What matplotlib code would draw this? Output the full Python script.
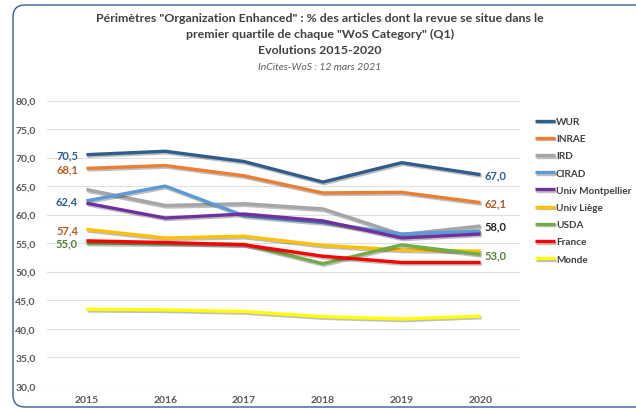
import matplotlib
matplotlib.use("Agg")
import matplotlib.pyplot as plt
import matplotlib.patheffects as pe
from matplotlib.patches import FancyBboxPatch
from matplotlib.transforms import IdentityTransform

plt.rcParams['font.family'] = ['Lato', 'DejaVu Sans']

years = ['2015', '2016', '2017', '2018', '2019', '2020']
series_names = ['WUR', 'INRAE', 'IRD', 'CIRAD', 'Univ Montpellier',
                'Univ Liège', 'USDA', 'France', 'Monde']
colors = ['#2F5D8C', '#ED7D31', '#A5A5A5', '#5B9BD5', '#7030A0',
          '#FFC000', '#70AD47', '#FF0000', '#FFFF00']

wur = [70.5, 71.1, 69.3, 65.7, 69.1, 67.0]
inrae = [68.1, 68.6, 66.8, 63.8, 63.9, 62.1]
ird = [64.4, 61.6, 61.9, 61.0, 56.5, 58.0]
cirad = [62.4, 65.0, 59.8, 58.6, 56.6, 57.1]
univ_mtp = [62.0, 59.4, 60.1, 58.9, 55.9, 56.6]
univ_liege = [57.4, 55.9, 56.2, 54.6, 53.8, 53.6]
usda = [55.0, 54.9, 54.8, 51.4, 54.7, 53.0]
france = [55.4, 55.1, 54.7, 52.7, 51.6, 51.6]
monde = [43.4, 43.3, 43.0, 42.1, 41.7, 42.2]
all_series = [wur, inrae, ird, cirad, univ_mtp, univ_liege, usda, france, monde]

# data labels: (series index, text colour)
left_labels = [(0, '#2F5D8C'), (1, '#B55A1E'), (3, '#2F5D8C'), (5, '#B55A1E'), (6, '#548235')]
right_labels = [(0, '#2F5D8C'), (1, '#B55A1E'), (2, '#262626'), (6, '#548235')]

W, H = 636, 410
fig = plt.figure(figsize=(W / 100, H / 100), dpi=100)
fig.patch.set_facecolor('white')

# rounded frame around the chart
frame = FancyBboxPatch((13, 2), 640, 402, boxstyle="round,pad=0,rounding_size=12",
                       transform=IdentityTransform(), facecolor='none',
                       edgecolor='#3A5A9A', linewidth=1.0)
fig.patches.append(frame)

# axes placed in pixel units
x0, x1 = 47, 520
y_top, y_bot = 101.5, 386.7
ax = fig.add_axes([x0 / W, 1 - y_bot / H, (x1 - x0) / W, (y_bot - y_top) / H])

xs = list(range(len(years)))
for name, vals, c in zip(series_names, all_series, colors):
    ax.plot(xs, vals, color=c, lw=2.4, label=name, solid_capstyle='butt',
            path_effects=[pe.SimpleLineShadow(offset=(0.8, -1.2), alpha=0.25),
                          pe.Normal()])

for i, c in left_labels:
    ax.annotate(f"{all_series[i][0]:.1f}".replace('.', ','), (0, all_series[i][0]),
                xytext=(-6, 0), textcoords='offset points', ha='right', va='center',
                fontsize=8, fontweight='bold', color=c)
for i, c in right_labels:
    ax.annotate(f"{all_series[i][-1]:.1f}".replace('.', ','), (5, all_series[i][-1]),
                xytext=(3, 0), textcoords='offset points', ha='left', va='center',
                fontsize=8, fontweight='bold', color=c)

ax.set_xlim(-0.5, 5.5)
ax.set_ylim(30, 80)
ax.set_yticks(range(30, 81, 5))
ax.set_yticklabels([f"{v},0" for v in range(30, 81, 5)])
ax.set_xticks(xs)
ax.set_xticklabels(years)
ax.tick_params(length=0, labelsize=7.5, labelcolor='#595959', pad=8)
ax.tick_params(axis='x', pad=7)
for lab in ax.get_xticklabels() + ax.get_yticklabels():
    lab.set_fontweight('bold')
ax.grid(axis='y', color='#E0E0E0', lw=0.8)
ax.set_axisbelow(True)
for s in ax.spines.values():
    s.set_visible(False)

leg = fig.legend(loc='upper left', bbox_to_anchor=(531 / W, 1 - 114 / H),
                 frameon=False, fontsize=7.2, handlelength=2.0, handletextpad=0.1,
                 labelspacing=0.82, borderaxespad=0)
for t in leg.get_texts():
    t.set_color('#404040')
    t.set_fontweight('bold')
for h in leg.get_lines():
    h.set_linewidth(2.4)

title_lines = ['Périmètres "Organization Enhanced" : % des articles dont la revue se situe dans le',
               'premier quartile de chaque "WoS Category" (Q1)',
               'Evolutions 2015-2020']
for k, line in enumerate(title_lines):
    fig.text(320 / W, 1 - (19 + 15.5 * k) / H, line, ha='center', va='center',
             fontsize=8.9, fontweight='bold', color='#404040')
fig.text(320 / W, 1 - 67 / H, 'InCites-WoS : 12 mars 2021', ha='center', va='center',
         fontsize=7.5, style='italic', color='#595959')

fig.savefig('out.png', dpi=100)
